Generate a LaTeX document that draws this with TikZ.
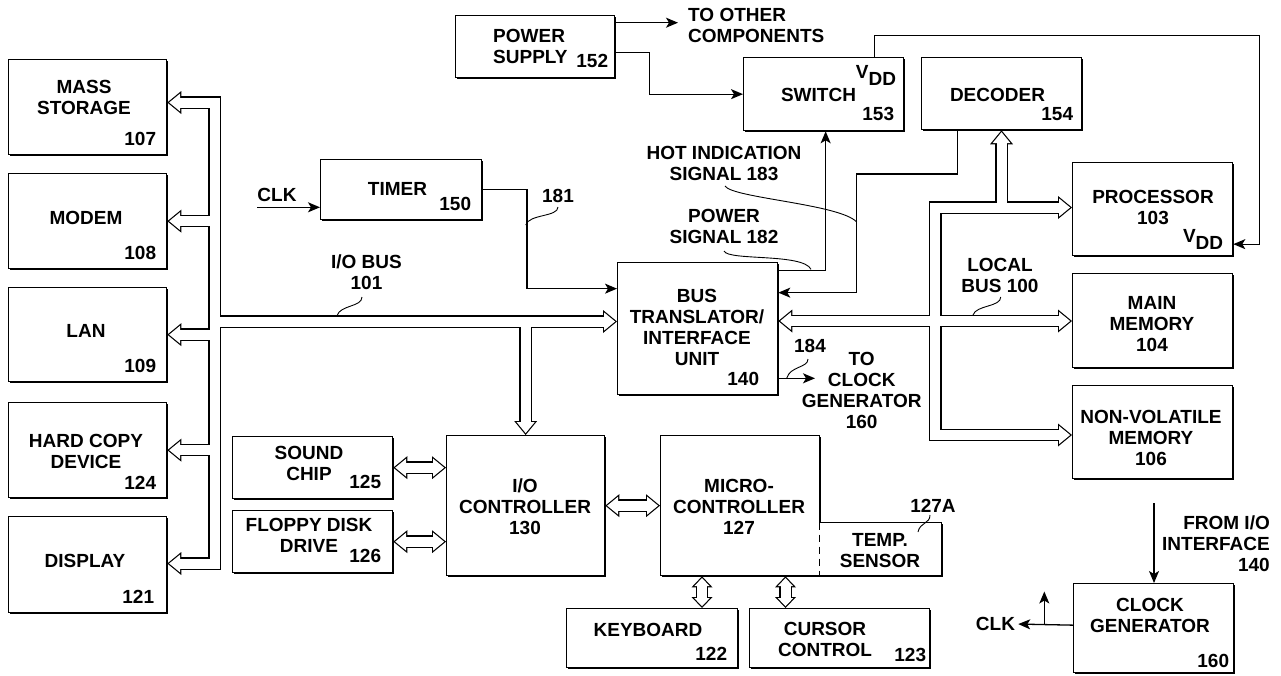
\documentclass[tikz,border=0pt]{standalone}
\usepackage{fontspec}
\setmainfont{Liberation Sans}
\usetikzlibrary{arrows.meta,shadows}

\tikzset{
  blk/.style={draw, fill=white, line width=1.3pt, inner sep=0pt,
    general shadow={fill=black, shadow xshift=1.6pt, shadow yshift=-1.6pt}},
  txt/.style={font=\fontsize{19}{21}\selectfont\bfseries, inner sep=0pt, align=center},
  num/.style={txt, anchor=south east},
  sig/.style={line width=1.3pt, -{Stealth[length=12pt,width=10pt,inset=3pt]}},
  lead/.style={line width=0.9pt},
  busout/.style={line width=12.4pt, line join=miter,
    >={Triangle[width=23pt,length=14pt,line width=0pt]}},
  busin/.style={line width=10pt, white, line join=miter,
    >={Triangle[width=17.9pt,length=10.9pt,line width=0pt]},
    shorten >=1.9pt, shorten <=1.9pt},
  busoutS/.style={busout, >={Triangle[width=21pt,length=11pt,line width=0pt]}},
  businS/.style={busin, >={Triangle[width=15.4pt,length=8.1pt,line width=0pt]},
    shorten >=1.75pt, shorten <=1.75pt},
}

% the buses, drawn twice: black outline first, then the white inside
\newcommand\busnet[1]{%
  \draw[#1,<->] (ib1 -| ms.east) -- (ib1) -- (ib2) -- (ib2 -| dsp.east);
  \foreach \d in {mdm,lan,hcd}
    \draw[#1,->] (ib1 |- \d.east) -- (\d.east);
  \draw[#1,->] (ibx) -- (ibx -| bt.west);
  \draw[#1,->] (ibx -| ioc.north) -- (ioc.north);
  \draw[#1,<->] (lbx -| bt.east) -- (lbx -| mm.west);
  \draw[#1,<->] (lb1 -| proc.west) -- (lb1) -- (lb2) -- (lb2 -| nvm.west);
  \draw[#1,->] (dcb) -- (dcb |- dec.south);
  \draw[#1,<->] (snd.east) -- (snd.east -| ioc.west);
  \draw[#1,<->] (fdd.east) -- (fdd.east -| ioc.west);
  \draw[#1,<->] (ioc.east) -- (ioc.east -| mc.west);
  \draw[#1S,<->] (kbx |- mc.south) -- (kbx |- kbd.north);
  \draw[#1S,<->] (cux |- mc.south) -- (cux |- cur.north);
}

\begin{document}
\begin{tikzpicture}[x=1pt,y=-1pt]
  \useasboundingbox (0,0) rectangle (1281,675);

  % left column
  \node[blk, anchor=north west, minimum width=158pt, minimum height=95pt] (ms) at (8,59) {};
  \node[blk, anchor=north west, minimum width=158pt, minimum height=95pt] (mdm) at (8,173) {};
  \node[blk, anchor=north west, minimum width=158pt, minimum height=94pt] (lan) at (8,287) {};
  \node[blk, anchor=north west, minimum width=158pt, minimum height=95pt] (hcd) at (8,402) {};
  \node[blk, anchor=north west, minimum width=158pt, minimum height=96pt] (dsp) at (8,516) {};
  % top row
  \node[blk, anchor=north west, minimum width=159pt, minimum height=62pt] (ps) at (455,15) {};
  \node[blk, anchor=north west, minimum width=160pt, minimum height=73pt] (sw) at (743,57) {};
  \node[blk, anchor=north west, minimum width=160pt, minimum height=72pt] (dec) at (921,57) {};
  \node[blk, anchor=north west, minimum width=161pt, minimum height=60pt] (tim) at (320,159) {};
  % middle
  \node[blk, anchor=north west, minimum width=160pt, minimum height=132pt] (bt) at (617,262) {};
  \node[blk, anchor=north west, minimum width=160pt, minimum height=93pt] (proc) at (1072,162) {};
  \node[blk, anchor=north west, minimum width=160pt, minimum height=94pt] (mm) at (1072,273) {};
  \node[blk, anchor=north west, minimum width=160pt, minimum height=93pt] (nvm) at (1072,385) {};
  % bottom
  \node[blk, anchor=north west, minimum width=160pt, minimum height=62pt] (snd) at (232,436) {};
  \node[blk, anchor=north west, minimum width=160pt, minimum height=62pt] (fdd) at (232,510) {};
  \node[blk, anchor=north west, minimum width=158pt, minimum height=140pt] (ioc) at (446,435) {};
  \node[blk, anchor=north west, minimum width=159pt, minimum height=140pt] (mc) at (660,435) {};
  \node[blk, anchor=south west, minimum width=122pt, minimum height=53pt] (tmp) at ([xshift=-1.3pt]mc.south east) {};
  \draw[white, line width=3pt] ([xshift=0.65pt,yshift=-1.4pt]tmp.north west) -- ([xshift=0.65pt,yshift=1.4pt]tmp.south west);
  \draw[line width=1.3pt, dash pattern=on 7pt off 5pt] ([xshift=0.65pt,yshift=-0.65pt]tmp.north west) -- ([xshift=0.65pt,yshift=0.65pt]tmp.south west);
  \node[blk, anchor=north west, minimum width=171pt, minimum height=59pt] (kbd) at (566,608) {};
  \node[blk, anchor=north west, minimum width=180pt, minimum height=59pt] (cur) at (749,608) {};
  \node[blk, anchor=north west, minimum width=160pt, minimum height=89pt] (cg) at (1073,583) {};

  % bus corners
  \coordinate (ib1) at (214.5,102.5);
  \coordinate (ib2) at (214.5,563.5);
  \coordinate (ibx) at (214.5,321.5);
  \coordinate (lb1) at (935.3,207.5);
  \coordinate (lb2) at (935.3,435);
  \coordinate (lbx) at (935.3,321);
  \coordinate (dcb) at (1001.5,207.5);
  \coordinate (kbx) at (702,0);
  \coordinate (cux) at (785.5,0);
  \busnet{busout}
  \busnet{busin}

  % box texts
  \node[txt] (msT) at (84,97) {MASS\\STORAGE};
  \node[num] (msN) at ([xshift=-11pt,yshift=9pt]ms.south east) {107};
  \node[txt] (mdmT) at (86,218) {MODEM};
  \node[num] (mdmN) at ([xshift=-11pt,yshift=9pt]mdm.south east) {108};
  \node[txt] (lanT) at (86,331) {LAN};
  \node[num] (lanN) at ([xshift=-11pt,yshift=9pt]lan.south east) {109};
  \node[txt] (hcdT) at (86,451) {HARD COPY\\DEVICE};
  \node[num] (hcdN) at ([xshift=-11pt,yshift=9pt]hcd.south east) {124};
  \node[txt] (dspT) at (85,561) {DISPLAY};
  \node[num] (dspN) at ([xshift=-13pt,yshift=10pt]dsp.south east) {121};
  \node[txt, anchor=west, align=left] (psT) at (493,46) {POWER\\SUPPLY};
  \node[num] (psN) at ([xshift=-7pt,yshift=10pt]ps.south east) {152};
  \node[txt] (swT) at (818.5,95) {SWITCH};
  \node[num] (swN) at ([xshift=-10pt,yshift=10pt]sw.south east) {153};
  \node[txt, anchor=north east] (swV) at ([xshift=-8pt,yshift=-8pt]sw.north east) {V\raisebox{-7pt}{DD}};
  \node[txt] (decT) at (997.5,95) {DECODER};
  \node[num] (decN) at ([xshift=-9pt,yshift=9pt]dec.south east) {154};
  \node[txt] (timT) at (397.5,188.5) {TIMER};
  \node[num] (timN) at ([xshift=-11pt,yshift=9pt]tim.south east) {150};
  \node[txt] (btT) at (697,327.5) {BUS\\TRANSLATOR/\\INTERFACE\\UNIT};
  \node[num] (btN) at ([xshift=-19pt,yshift=9pt]bt.south east) {140};
  \node[txt] (procT) at (1153,207) {PROCESSOR\\103};
  \node[txt, anchor=south east] (procV) at ([xshift=-10pt,yshift=7pt]proc.south east) {V\raisebox{-7pt}{DD}};
  \node[txt] (mmT) at (1152,324) {MAIN\\MEMORY\\104};
  \node[txt] (nvmT) at (1151,437.5) {NON-VOLATILE\\MEMORY\\106};
  \node[txt] (sndT) at (309,463) {SOUND\\CHIP};
  \node[num] (sndN) at ([xshift=-12pt,yshift=10pt]snd.south east) {125};
  \node[txt] (fddT) at (309,535) {FLOPPY DISK\\DRIVE};
  \node[num] (fddN) at ([xshift=-12pt,yshift=10pt]fdd.south east) {126};
  \node[txt] (iocT) at (525,507) {I/O\\CONTROLLER\\130};
  \node[txt] (mcT) at (739,507) {MICRO-\\CONTROLLER\\127};
  \node[txt] (tmpT) at (880,551) {TEMP.\\SENSOR};
  \node[txt] (kbdT) at (648,630) {KEYBOARD};
  \node[num] (kbdN) at ([xshift=-11pt,yshift=8pt]kbd.south east) {122};
  \node[txt] (curT) at (825,639) {CURSOR\\CONTROL};
  \node[num] (curN) at ([xshift=-4pt,yshift=6pt]cur.south east) {123};
  \node[txt] (cgT) at (1150,615.5) {CLOCK\\GENERATOR};
  \node[num] (cgN) at ([xshift=-5pt,yshift=5pt]cg.south east) {160};

  % free labels
  \node[txt, anchor=west, align=left] (tocT) at (688,25.5) {TO OTHER\\COMPONENTS};
  \node[txt] (ioT) at (366.5,272) {I/O BUS\\101};
  \node[txt] (t181) at (558,196) {181};
  \node[txt] (hotT) at (724,163) {HOT INDICATION\\SIGNAL 183};
  \node[txt] (pwrT) at (724,226) {POWER\\SIGNAL 182};
  \node[txt] (lbT) at (1000,275) {LOCAL\\BUS 100};
  \node[txt] (t184) at (810,346) {184};
  \node[txt] (tcgT) at (861.7,390) {TO\\CLOCK\\GENERATOR\\160};
  \node[txt] (t127a) at (933,506) {127A};
  \node[txt, anchor=east, align=right] (fioT) at (1270,543.5) {FROM I/O\\INTERFACE\\140};
  \node[txt] (clkT) at (277,195) {CLK};
  \node[txt] (clkO) at (995.5,624) {CLK};

  % signal lines
  \coordinate (clkA) at (257,207.3);
  \draw[sig] (clkA) -- (clkA -| tim.west);
  \draw[sig] (tim.east) -- ++(44.7,0) |- ([yshift=40pt]bt.west);
  \coordinate (tocA) at (678,22.7);
  \draw[sig] (tocA -| ps.east) -- (tocA);
  \draw[sig] ([yshift=-6pt]ps.east) -- ++(34,0) |- (sw.west);
  \coordinate (vddA) at (1259.3,35.7);
  \draw[sig] ([xshift=51pt]sw.north) |- (vddA) |- ([yshift=-35pt]proc.east);
  \draw[sig] ([yshift=58pt]bt.east) -| ([xshift=2pt]sw.south);
  \coordinate (hotA) at (856.7,174);
  \draw[sig] ([xshift=-44pt]dec.south) |- (hotA) |- ([yshift=36pt]bt.east);
  \coordinate (tcgA) at (815,378.3);
  \draw[sig] (tcgA -| bt.east) -- (tcgA);
  \coordinate (fioA) at (1154,503);
  \draw[sig] (fioA) -- (fioA |- cg.north);
  \draw[sig, shorten >=3pt] ([yshift=3pt]cg.west) -- (clkO.east);
  \coordinate (clkB) at (1044.3,624.5);
  \draw[sig] (clkB) -- ++(0,-33);

  % leaders
  \draw[lead] (362,297) .. controls (362,307) and (340,305) .. (337,315.7);
  \draw[lead] (558,207) .. controls (558,217) and (529,214) .. (525.7,225);
  \draw[lead] (1000.7,297) .. controls (1001,307) and (976,305) .. (973,315);
  \draw[lead] (724,251) .. controls (728,261) and (803,253) .. (811,269.3);
  \draw[lead] (725,186) .. controls (732,198) and (840,204) .. (856.7,222);
  \draw[lead] (808,359) .. controls (808,368) and (790,366) .. (786.7,378.3);
  \draw[lead] (930,515) .. controls (930,524) and (920,522) .. (918,532);
\end{tikzpicture}
\end{document}
